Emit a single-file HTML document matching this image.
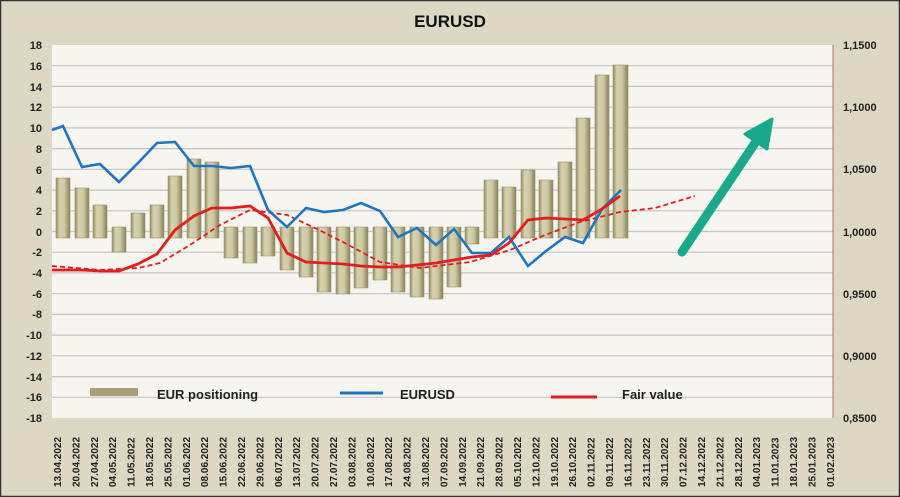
<!DOCTYPE html>
<html><head><meta charset="utf-8"><style>
html,body{margin:0;padding:0;background:#dcd8c4;}
svg{display:block;font-family:"Liberation Sans",Verdana,sans-serif;}
</style></head><body>
<svg width="900" height="497" viewBox="0 0 900 497" xmlns="http://www.w3.org/2000/svg">
<defs>
<linearGradient id="bg" x1="0" x2="1" y1="0" y2="0">
<stop offset="0" stop-color="#8f8a62"/><stop offset="0.25" stop-color="#d6d1ad"/><stop offset="0.6" stop-color="#cfc9a3"/><stop offset="1" stop-color="#87815a"/>
</linearGradient>
</defs>
<rect x="0.5" y="0.5" width="899" height="496" fill="#dcd8c4" stroke="#333" stroke-width="1.5"/>
<text x="450" y="27" text-anchor="middle" font-size="17" font-weight="bold" fill="#111">EURUSD</text>
<rect x="52" y="45" width="781" height="373" fill="#f6f5f0"/>
<g stroke="#c4c4c4" stroke-width="1.2">
<line x1="52" x2="833" y1="65.7" y2="65.7"/><line x1="52" x2="833" y1="86.4" y2="86.4"/><line x1="52" x2="833" y1="107.2" y2="107.2"/><line x1="52" x2="833" y1="127.9" y2="127.9"/><line x1="52" x2="833" y1="148.6" y2="148.6"/><line x1="52" x2="833" y1="169.3" y2="169.3"/><line x1="52" x2="833" y1="190.1" y2="190.1"/><line x1="52" x2="833" y1="210.8" y2="210.8"/><line x1="52" x2="833" y1="231.5" y2="231.5"/><line x1="52" x2="833" y1="252.2" y2="252.2"/><line x1="52" x2="833" y1="272.9" y2="272.9"/><line x1="52" x2="833" y1="293.7" y2="293.7"/><line x1="52" x2="833" y1="314.4" y2="314.4"/><line x1="52" x2="833" y1="335.1" y2="335.1"/><line x1="52" x2="833" y1="355.8" y2="355.8"/><line x1="52" x2="833" y1="376.6" y2="376.6"/><line x1="52" x2="833" y1="397.3" y2="397.3"/>
</g>
<line x1="833" x2="833" y1="45" y2="418" stroke="#b07070" stroke-width="1"/>
<g font-size="11" font-weight="bold" fill="#222" text-anchor="end">
<text x="42" y="49">18</text><text x="42" y="70">16</text><text x="42" y="91">14</text><text x="42" y="111">12</text><text x="42" y="132">10</text><text x="42" y="153">8</text><text x="42" y="174">6</text><text x="42" y="194">4</text><text x="42" y="215">2</text><text x="42" y="236">0</text><text x="42" y="256">-2</text><text x="42" y="277">-4</text><text x="42" y="298">-6</text><text x="42" y="318">-8</text><text x="42" y="339">-10</text><text x="42" y="360">-12</text><text x="42" y="381">-14</text><text x="42" y="401">-16</text><text x="42" y="422">-18</text>
</g>
<g font-size="11" font-weight="bold" fill="#222">
<text x="843" y="49">1,1500</text><text x="843" y="111">1,1000</text><text x="843" y="173">1,0500</text><text x="843" y="236">1,0000</text><text x="843" y="298">0,9500</text><text x="843" y="360">0,9000</text><text x="843" y="422">0,8500</text>
</g>
<g fill="url(#bg)" stroke="#9a946c" stroke-width="0.6">
<rect x="56" y="178" width="14" height="60"/><rect x="75" y="188" width="14" height="50"/><rect x="93" y="205" width="14" height="33"/><rect x="112" y="227" width="14" height="25"/><rect x="131" y="213" width="14" height="25"/><rect x="150" y="205" width="14" height="33"/><rect x="168" y="176" width="14" height="62"/><rect x="187" y="159" width="14" height="79"/><rect x="205" y="162" width="14" height="76"/><rect x="224" y="227" width="14" height="31"/><rect x="243" y="227" width="14" height="36"/><rect x="261" y="227" width="14" height="29"/><rect x="280" y="227" width="14" height="43"/><rect x="299" y="227" width="14" height="50"/><rect x="317" y="227" width="14" height="65"/><rect x="336" y="227" width="14" height="67"/><rect x="354" y="227" width="14" height="61"/><rect x="373" y="227" width="14" height="53"/><rect x="391" y="227" width="14" height="65"/><rect x="410" y="227" width="14" height="70"/><rect x="429" y="227" width="14" height="72"/><rect x="447" y="227" width="14" height="60"/><rect x="465" y="227" width="14" height="17"/><rect x="484" y="180" width="14" height="58"/><rect x="502" y="187" width="14" height="51"/><rect x="521" y="170" width="14" height="68"/><rect x="539" y="180" width="14" height="58"/><rect x="558" y="162" width="14" height="76"/><rect x="576" y="118" width="14" height="120"/><rect x="595" y="75" width="14" height="163"/><rect x="613" y="65" width="15" height="173"/>
</g>
<polyline fill="none" stroke="#e31d1d" stroke-width="1.8" stroke-dasharray="5,3" points="52,266 100,270 138,268 160,263 190,245 220,225 250,210 287,215 315,228 343,242 380,262 420,268 470,262 510,250 545,235 580,222 620,212 655,208 695,196"/>
<polyline fill="none" stroke="#1f75c2" stroke-width="2.6" points="52,130 63,126 82,167 100,164 119,182 138,163 157,143 175,142 194,166 212,166 231,168 250,166 268,210 287,227 306,208 324,212 343,210 361,203 380,211 398,237 417,228 436,245 454,229 472,253 491,253 509,237 528,266 546,251 565,237 583,243 602,209 621,190"/>
<polyline fill="none" stroke="#e31d1d" stroke-width="2.8" points="52,270 82,270 100,271 119,271 138,264 157,254 175,230 194,216 212,208 231,208 250,206 268,218 287,253 306,262 324,263 343,264 361,266 380,267 398,267 417,265 436,263 454,260 472,257 491,255 509,243 528,220 546,218 565,219 583,220 602,209 620,196"/>
<line x1="682" y1="252" x2="755" y2="143" stroke="#19a88a" stroke-width="9" stroke-linecap="round"/>
<polygon points="772,119 767,149 745,134" fill="#19a88a" stroke="#19a88a" stroke-width="3" stroke-linejoin="round"/>
<rect x="90" y="388" width="48" height="8" fill="#a8a178"/>
<text x="157" y="399" font-size="13" font-weight="bold" fill="#222">EUR positioning</text>
<line x1="340" x2="383" y1="393" y2="393" stroke="#1f75c2" stroke-width="3"/>
<text x="400" y="399" font-size="13" font-weight="bold" fill="#222">EURUSD</text>
<line x1="551" x2="597" y1="397" y2="397" stroke="#e31d1d" stroke-width="3"/>
<text x="622" y="399" font-size="13" font-weight="bold" fill="#222">Fair value</text>
<g font-size="10" font-weight="bold" fill="#222">
<text transform="translate(61,487) rotate(-90)">13.04.2022</text><text transform="translate(79.4,487) rotate(-90)">20.04.2022</text><text transform="translate(97.8,487) rotate(-90)">27.04.2022</text><text transform="translate(116.2,487) rotate(-90)">04.05.2022</text><text transform="translate(134.6,487) rotate(-90)">11.05.2022</text><text transform="translate(153,487) rotate(-90)">18.05.2022</text><text transform="translate(171.4,487) rotate(-90)">25.05.2022</text><text transform="translate(189.8,487) rotate(-90)">01.06.2022</text><text transform="translate(208.2,487) rotate(-90)">08.06.2022</text><text transform="translate(226.6,487) rotate(-90)">15.06.2022</text><text transform="translate(245,487) rotate(-90)">22.06.2022</text><text transform="translate(263.4,487) rotate(-90)">29.06.2022</text><text transform="translate(281.8,487) rotate(-90)">06.07.2022</text><text transform="translate(300.2,487) rotate(-90)">13.07.2022</text><text transform="translate(318.6,487) rotate(-90)">20.07.2022</text><text transform="translate(337,487) rotate(-90)">27.07.2022</text><text transform="translate(355.4,487) rotate(-90)">03.08.2022</text><text transform="translate(373.8,487) rotate(-90)">10.08.2022</text><text transform="translate(392.2,487) rotate(-90)">17.08.2022</text><text transform="translate(410.6,487) rotate(-90)">24.08.2022</text><text transform="translate(429,487) rotate(-90)">31.08.2022</text><text transform="translate(447.4,487) rotate(-90)">07.09.2022</text><text transform="translate(465.8,487) rotate(-90)">14.09.2022</text><text transform="translate(484.2,487) rotate(-90)">21.09.2022</text><text transform="translate(502.6,487) rotate(-90)">28.09.2022</text><text transform="translate(521,487) rotate(-90)">05.10.2022</text><text transform="translate(539.4,487) rotate(-90)">12.10.2022</text><text transform="translate(557.8,487) rotate(-90)">19.10.2022</text><text transform="translate(576.2,487) rotate(-90)">26.10.2022</text><text transform="translate(594.6,487) rotate(-90)">02.11.2022</text><text transform="translate(613,487) rotate(-90)">09.11.2022</text><text transform="translate(631.4,487) rotate(-90)">16.11.2022</text><text transform="translate(649.8,487) rotate(-90)">23.11.2022</text><text transform="translate(668.2,487) rotate(-90)">30.11.2022</text><text transform="translate(686.6,487) rotate(-90)">07.12.2022</text><text transform="translate(705,487) rotate(-90)">14.12.2022</text><text transform="translate(723.4,487) rotate(-90)">21.12.2022</text><text transform="translate(741.8,487) rotate(-90)">28.12.2022</text><text transform="translate(760.2,487) rotate(-90)">04.01.2023</text><text transform="translate(778.6,487) rotate(-90)">11.01.2023</text><text transform="translate(797,487) rotate(-90)">18.01.2023</text><text transform="translate(815.4,487) rotate(-90)">25.01.2023</text><text transform="translate(833.8,487) rotate(-90)">01.02.2023</text>
</g>
</svg>
</body></html>
